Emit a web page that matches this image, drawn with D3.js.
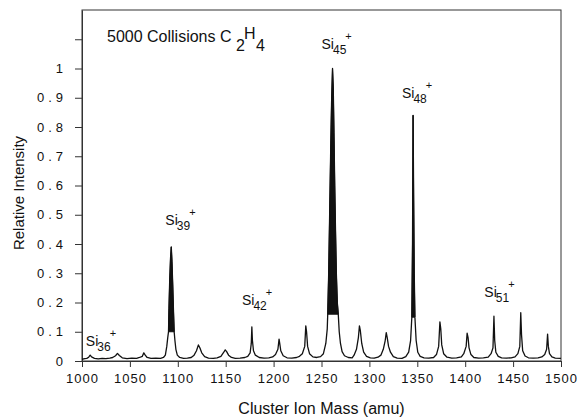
<!DOCTYPE html>
<html>
<head>
<meta charset="utf-8">
<script src="https://cdn.jsdelivr.net/npm/d3@7"></script>
<style>
  body { margin: 0; background: #fff; }
  text { font-family: "Liberation Sans", Arial, sans-serif; fill: #111; }
</style>
</head>
<body>
<div id="chart"></div>
<script>
// chart size
var width = 577,
    height = 418;

// x = cluster ion mass (amu), y = relative intensity
var xTicks = [1000, 1050, 1100, 1150, 1200, 1250, 1300, 1350, 1400, 1450, 1500];
var yTicks = [0, 0.1, 0.2, 0.3, 0.4, 0.5, 0.6, 0.7, 0.8, 0.9, 1, 1.1];
var yTickLabels = ["0", "0.1", "0.2", "0.3", "0.4", "0.5", "0.6", "0.7", "0.8", "0.9", "1", ""];

// spectrum trace
var spectrum = [
  [1000,0.006],[1003,0.008],
  [1005,0.009],[1007,0.013],[1008.5,0.02],[1010,0.014],[1013,0.009],[1017,0.007],[1021,0.009],[1025,0.008],[1029,0.01],
  [1032,0.012],[1035,0.018],[1037,0.026],[1039,0.019],[1042,0.011],[1047,0.008],[1052,0.01],[1057,0.009],[1060,0.012],
  [1063,0.016],[1064.5,0.028],[1066,0.02],[1068,0.012],[1072,0.009],[1077,0.01],[1082,0.009],[1085,0.012],
  [1087,0.02],[1088.5,0.05],[1089.5,0.08],[1090.3,0.1],[1090.8,0.18],[1091.5,0.27],[1092.4,0.35],[1093.2,0.39],
  [1093.9,0.34],[1094.7,0.26],[1095.5,0.17],[1096.2,0.1],[1097,0.07],[1098,0.04],[1099.5,0.02],[1102,0.012],
  [1106,0.009],[1110,0.01],[1114,0.012],
  [1117,0.02],[1119.5,0.035],[1121.5,0.055],[1123,0.045],[1125,0.028],[1128,0.015],[1132,0.01],[1137,0.009],[1141,0.011],
  [1145,0.016],[1148,0.03],[1149.5,0.038],[1151,0.032],[1153,0.02],[1156,0.012],[1160,0.009],[1165,0.01],[1170,0.012],
  [1173,0.016],[1175.5,0.028],[1176.7,0.06],[1177.3,0.117],[1177.9,0.07],[1179,0.035],[1181,0.02],[1185,0.012],
  [1190,0.01],[1195,0.011],[1199,0.014],
  [1202,0.022],[1204.5,0.04],[1205.7,0.075],[1206.4,0.06],[1207.5,0.035],[1210,0.018],[1214,0.011],[1219,0.01],
  [1224,0.012],[1227,0.016],
  [1230,0.025],[1232.5,0.05],[1233.6,0.12],[1234.4,0.1],[1235.5,0.05],[1237.5,0.025],[1241,0.014],[1245,0.012],[1249,0.015],
  [1252,0.025],[1254.5,0.06],[1256,0.11],[1256.5,0.16],[1257.5,0.3],[1258.5,0.5],[1259.5,0.7],[1260.5,0.88],[1261.5,1.0],
  [1262.3,0.93],[1263,0.78],[1263.8,0.6],[1264.6,0.45],[1265.5,0.3],[1266.5,0.2],[1267.5,0.16],[1268.5,0.1],
  [1269.8,0.06],[1271.5,0.032],[1274,0.018],[1278,0.012],[1282,0.011],
  [1284,0.02],[1286.5,0.04],[1288.5,0.08],[1289.6,0.12],[1290.5,0.105],[1292,0.06],[1294,0.03],[1297,0.016],
  [1301,0.011],[1305,0.01],[1309,0.013],
  [1312,0.02],[1314.5,0.04],[1316.5,0.07],[1317.6,0.097],[1318.6,0.08],[1320,0.05],[1322,0.03],[1325,0.015],
  [1329,0.01],[1334,0.009],
  [1338,0.015],[1341,0.03],[1343,0.07],[1344.3,0.15],[1345,0.4],[1345.6,0.84],[1346.2,0.55],[1346.8,0.3],[1347.5,0.15],
  [1348.8,0.07],[1350.5,0.03],[1353,0.016],[1357,0.011],[1362,0.01],[1367,0.012],
  [1370,0.022],[1372.3,0.05],[1373.6,0.134],[1374.5,0.11],[1375.5,0.055],[1377.5,0.025],[1381,0.013],[1386,0.01],
  [1391,0.011],[1396,0.014],
  [1398.5,0.025],[1401,0.05],[1402,0.095],[1403,0.08],[1404,0.045],[1406,0.022],[1409,0.012],[1414,0.01],
  [1419,0.011],[1424,0.013],
  [1427,0.025],[1429,0.045],[1430,0.153],[1430.8,0.07],[1432,0.03],[1434.5,0.016],[1438,0.011],[1443,0.01],
  [1448,0.011],[1452,0.014],
  [1455,0.025],[1457,0.05],[1458,0.165],[1458.8,0.09],[1460,0.035],[1462.5,0.017],[1466,0.011],[1471,0.01],
  [1476,0.011],[1480,0.014],
  [1483,0.022],[1485,0.04],[1486,0.092],[1486.8,0.05],[1488,0.025],[1490.5,0.014],[1494,0.01],[1500,0.009]
];

// mass ranges where the big peaks are filled solid
var solidRanges = [[1090.3, 1096.2], [1256.5, 1267.5], [1344.3, 1347.5]];

// peak labels Si_n^+
var labelCluster = ["36", "39", "42", "45", "48", "51"];
var labelMass = [1004, 1087, 1167, 1250, 1334, 1420];
var labelY = [0.05, 0.465, 0.19, 1.065, 0.9, 0.218];

var svg = d3.select("#chart")
  .append("svg")
  .attr("width", width)
  .attr("height", height);

var x = d3.scaleLinear().domain([1000, 1500]).range([82, 561]);
var y = d3.scaleLinear().domain([0, 1.2]).range([361, 10]);

// frame
svg.append("rect")
  .attr("x", x(1000)).attr("y", y(1.2))
  .attr("width", x(1500) - x(1000)).attr("height", y(0) - y(1.2))
  .style("fill", "none").style("stroke", "#333").style("stroke-width", 1);

// axes
var xAxis = svg.append("g")
  .attr("transform", "translate(0," + y(0) + ")")
  .call(d3.axisBottom(x).tickValues(xTicks).tickSize(6).tickSizeOuter(0).tickFormat(d3.format("d")));

var yAxis = svg.append("g")
  .attr("transform", "translate(" + x(1000) + ",0)")
  .call(d3.axisLeft(y).tickValues(yTicks).tickSize(7).tickSizeOuter(0)
    .tickFormat(function(d, i) { return yTickLabels[i]; }));

svg.selectAll(".domain").style("stroke", "#333");
svg.selectAll(".tick line").style("stroke", "#333");

xAxis.selectAll("text")
  .attr("y", 13)
  .style("font-size", "13px")
  .style("letter-spacing", "1px")
  .style("font-family", "Liberation Sans, Arial, sans-serif")
  .style("fill", "#111");

yAxis.selectAll("text")
  .attr("x", -15)
  .style("font-size", "13px")
  .style("letter-spacing", "4px")
  .style("font-family", "Liberation Sans, Arial, sans-serif")
  .style("fill", "#111");

// solid parts of the big peaks
solidRanges.forEach(function(r) {
  var pts = spectrum.filter(function(p) { return p[0] >= r[0] && p[0] <= r[1]; });
  svg.append("path")
    .attr("d", d3.line().x(function(d) { return x(d[0]); }).y(function(d) { return y(d[1]); })(pts) + "Z")
    .style("fill", "#111")
    .style("stroke", "#111")
    .style("stroke-width", 1);
});

// spectrum line
svg.append("path")
  .datum(spectrum)
  .attr("d", d3.line().x(function(d) { return x(d[0]); }).y(function(d) { return y(d[1]); }))
  .style("fill", "none")
  .style("stroke", "#111")
  .style("stroke-width", 1.3)
  .style("stroke-linejoin", "round");

// peak labels
labelCluster.forEach(function(n, i) {
  var t = svg.append("text")
    .attr("x", x(labelMass[i]))
    .attr("y", y(labelY[i]))
    .style("font-size", "14px");
  t.append("tspan").text("Si");
  t.append("tspan").attr("dy", 5).attr("dx", -1).style("font-size", "12px").text(n);
  t.append("tspan").attr("dy", -14).attr("dx", -1).style("font-size", "11px").text("+");
});

// annotation, with the offset subscripts of the original
svg.append("text").attr("x", 107).attr("y", 42).style("font-size", "16px").text("5000 Collisions C");
svg.append("text").attr("x", 236).attr("y", 51).style("font-size", "16px").text("2");
svg.append("text").attr("x", 244).attr("y", 39).style("font-size", "16px").text("H");
svg.append("text").attr("x", 256).attr("y", 51).style("font-size", "16px").text("4");

// axis titles
svg.append("text")
  .attr("x", (x(1000) + x(1500)) / 2)
  .attr("y", 414)
  .attr("text-anchor", "middle")
  .style("font-size", "16px")
  .text("Cluster Ion Mass (amu)");

svg.append("text")
  .attr("transform", "translate(24," + 193 + ") rotate(-90)")
  .attr("text-anchor", "middle")
  .style("font-size", "15px")
  .text("Relative Intensity");
</script>
</body>
</html>
